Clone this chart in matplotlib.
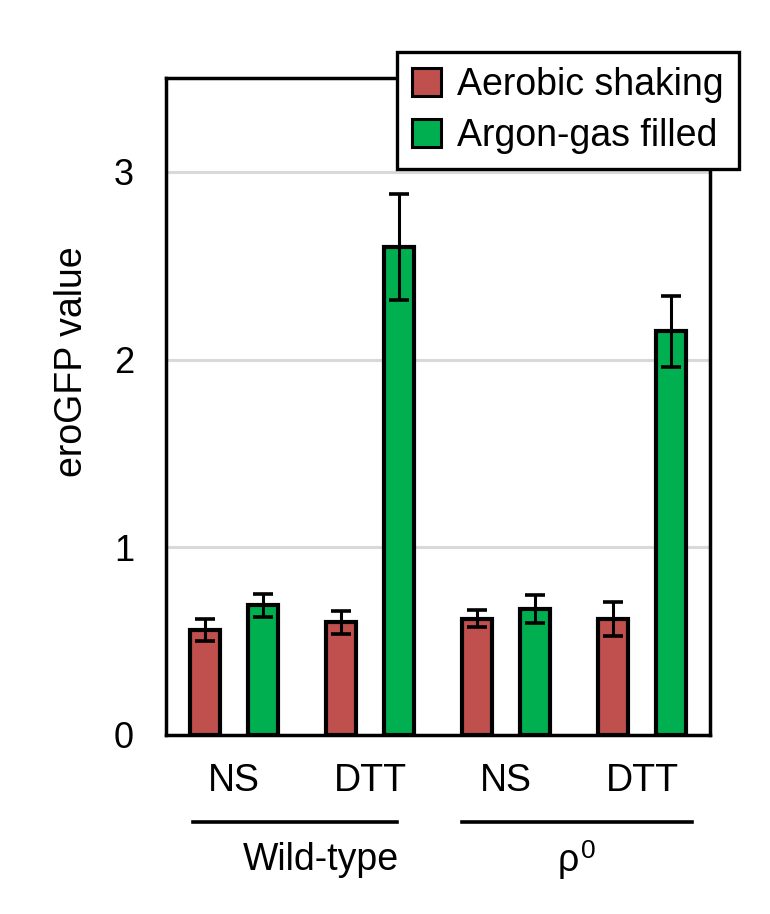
import numpy as np
import matplotlib
matplotlib.use("Agg")
import matplotlib.pyplot as plt

plt.rcParams['font.family'] = ['Liberation Sans', 'DejaVu Sans']

# donnees
categories = ["NS", "DTT", "NS", "DTT"]
aerobic = [0.56, 0.60, 0.62, 0.62]
aerobic_err = [0.06, 0.06, 0.045, 0.09]
argon = [0.69, 2.60, 0.67, 2.15]
argon_err = [0.06, 0.28, 0.075, 0.19]
groups = ["Wild-type", "ρ"]

red = "#c0504d"
green = "#00b050"
fs = 27

fig = plt.figure(figsize=(7.7, 9.14), dpi=100)
ax = fig.add_axes([166/770, 1 - 735/914, 544/770, 657/914])

x = np.arange(len(categories))
w = 0.22
d = 0.215
ax.bar(x - d, aerobic, w, color=red, edgecolor="black", linewidth=3.0, zorder=3,
       label="Aerobic shaking")
ax.bar(x + d, argon, w, color=green, edgecolor="black", linewidth=3.0, zorder=3,
       label="Argon-gas filled")
ax.errorbar(x - d, aerobic, yerr=aerobic_err, fmt="none", ecolor="black",
            elinewidth=2.2, capsize=7.5, capthick=2.6, zorder=4)
ax.errorbar(x + d, argon, yerr=argon_err, fmt="none", ecolor="black",
            elinewidth=2.2, capsize=7.5, capthick=2.6, zorder=4)

ax.set_xlim(-0.5, 3.5)
ax.set_ylim(0, 3.5)
ax.set_yticks([0, 1, 2, 3])
ax.yaxis.grid(True, color="#d9d9d9", linewidth=2.2, zorder=0)
ax.set_axisbelow(True)
for s in ax.spines.values():
    s.set_linewidth(2.5)
ax.tick_params(axis="y", length=0, pad=23, labelsize=26)
ax.set_xticks(x)
ax.set_xticklabels(categories)
ax.tick_params(axis="x", length=0, pad=20, labelsize=fs)
ax.set_ylabel("eroGFP value", fontsize=fs)
ax.yaxis.set_label_coords(-0.14, 0.568)

# lignes de groupes sous les categories
tr = ax.get_xaxis_transform()
ax.plot([-0.30, 1.20], [-0.132, -0.132], color="black", lw=2.6, transform=tr, clip_on=False)
ax.plot([1.676, 3.37], [-0.132, -0.132], color="black", lw=2.6, transform=tr, clip_on=False)
ax.text(0.64, -0.2055, groups[0], transform=tr, ha="center", va="baseline", fontsize=fs)
ax.text(2.456, -0.207, groups[1], transform=tr, ha="center", va="baseline", fontsize=fs)
ax.text(2.605, -0.187, "0", transform=tr, ha="center", va="baseline", fontsize=19)

leg = ax.legend(loc="upper right", bbox_to_anchor=(739/770, 1 - 52/914),
                bbox_transform=fig.transFigure, borderaxespad=0, fontsize=fs,
                handlelength=0.75, handleheight=0.75, handletextpad=0.45,
                fancybox=False, framealpha=1, edgecolor="black",
                borderpad=0.4, labelspacing=0.4)
leg.get_frame().set_linewidth(2.4)
for h in leg.legend_handles:
    h.set_linewidth(2.2)
leg.set_zorder(10)

fig.savefig("out.png", dpi=100)
